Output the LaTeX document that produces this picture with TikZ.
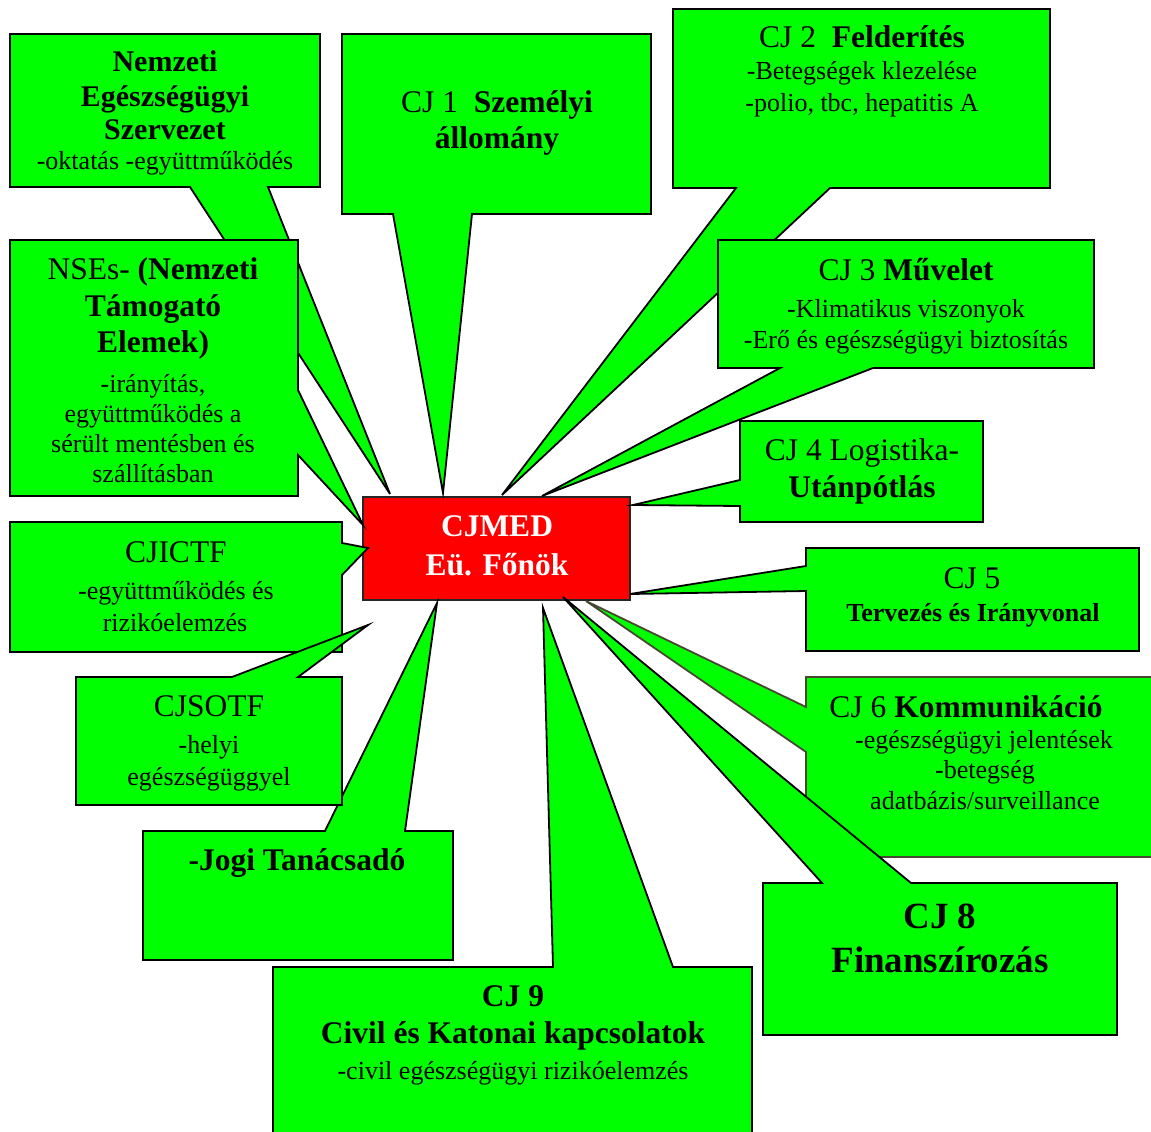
\documentclass[tikz,border=0pt]{standalone}
\usepackage{fontspec}
\setmainfont{Liberation Serif}
\definecolor{boxgreen}{RGB}{0,255,0}
\definecolor{chiefred}{RGB}{255,0,0}
\definecolor{olivegray}{RGB}{72,72,50}
% one line of text, anchored on its baseline
\newcommand\txtline[5]{\node[#4] (#1) at (#2,#3) {#5};}
\begin{document}
\begin{tikzpicture}[x=1pt,y=-1pt,
  callout/.style={draw=black, fill=boxgreen, line width=1.8pt, line join=miter},
  chiefbox/.style={draw=black!85, fill=chiefred, line width=1.8pt, inner sep=0pt},
  txt/.style={anchor=base, inner sep=0pt},
  ttl/.style={txt, font=\fontsize{31.5}{37}\selectfont},
  ttlneg/.style={txt, font=\fontsize{30}{33}\selectfont},
  sml/.style={txt, font=\fontsize{26}{31}\selectfont},
  big/.style={txt, font=\fontsize{37}{44}\selectfont},
]
\useasboundingbox (0,0) rectangle (1151,1132);
\clip (0,0) rectangle (1151,1132);

% the chief's box in the middle
\node[chiefbox, minimum width=267pt, minimum height=103pt] (chief) at (496.5,548.5) {};

% tips of the callout pointers, all around the chief's box
\coordinate (negtip) at (390,494);
\coordinate (nsetip) at (363,525);
\coordinate (cj1tip) at (443,493);
\coordinate (cj2tip) at (502,495);
\coordinate (cj3tip) at (542,496);
\coordinate (cj4tip) at (633,505);
\coordinate (cj5tip) at (630,594);
\coordinate (cj6tip) at (586,601);
\coordinate (cj8tip) at (563,597);
\coordinate (cj9tip) at (543,608);
\coordinate (jogtip) at (437,603);
\coordinate (sotftip) at (368,625);
\coordinate (ictftip) at (368,548);

% Nemzeti Egeszsegugyi Szervezet
\draw[callout] (10,34) -- (320,34) -- (320,187) -- (268,187) -- (negtip) -- (190,187) -- (10,187) -- cycle;
% NSEs
\draw[callout] (10,240) -- (298,240) -- (298,390) -- (nsetip) -- (298,455) -- (298,496) -- (10,496) -- cycle;
% CJ 1
\draw[callout] (342,34) -- (651,34) -- (651,214) -- (472,214) -- (cj1tip) -- (393,214) -- (342,214) -- cycle;
% CJ 2
\draw[callout] (673,9) -- (1050,9) -- (1050,188) -- (830,188) -- (cj2tip) -- (736,188) -- (673,188) -- cycle;
% CJ 3
\draw[callout] (718,240) -- (1094,240) -- (1094,368) -- (873,368) -- (cj3tip) -- (780,368) -- (718,368) -- cycle;
% CJ 4
\draw[callout] (740,421) -- (983,421) -- (983,522) -- (740,522) -- (740,506) -- (cj4tip) -- (740,480) -- cycle;
% CJ 5
\draw[callout] (806,548) -- (1139,548) -- (1139,651) -- (806,651) -- (806,591) -- (cj5tip) -- (806,566) -- cycle;
% CJ 6 (runs past the right edge)
\draw[callout, draw=olivegray] (806,677) -- (1162,677) -- (1162,857) -- (806,857) -- (806,752) -- (cj6tip) -- (806,707) -- cycle;
% CJ 8
\draw[callout] (763,883) -- (822,883) -- (cj8tip) -- (911,883) -- (1117,883) -- (1117,1035) -- (763,1035) -- cycle;
% CJ 9
\draw[callout] (273,967) -- (553,967) -- (cj9tip) -- (673,967) -- (752,967) -- (752,1145) -- (273,1145) -- cycle;
% CJICTF
\draw[callout] (10,522) -- (342,522) -- (342,543) -- (ictftip) -- (342,575) -- (342,652) -- (10,652) -- cycle;
% Jogi Tanacsado
\draw[callout] (143,831) -- (325,831) -- (jogtip) -- (405,831) -- (453,831) -- (453,960) -- (143,960) -- cycle;
% CJSOTF
\draw[callout] (76,677) -- (232,677) -- (sotftip) -- (298,677) -- (342,677) -- (342,805) -- (76,805) -- cycle;

% texts
\txtline{chiefa}{497}{536}{ttl, text=white}{\textbf{CJMED}}
\txtline{chiefb}{497}{575}{ttl, text=white}{\textbf{Eü. Főnök}}

\txtline{nega}{165}{72}{ttlneg}{\textbf{Nemzeti}}
\txtline{negb}{165}{106}{ttlneg}{\textbf{Egészségügyi}}
\txtline{negc}{165}{139}{ttlneg}{\textbf{Szervezet}}
\txtline{negd}{165}{169}{sml}{-oktatás -együttműködés}

\txtline{nsea}{153}{279}{ttl}{NSEs- \textbf{(Nemzeti}}
\txtline{nseb}{153}{316}{ttl}{\textbf{Támogató}}
\txtline{nsec}{153}{352}{ttl}{\textbf{Elemek)}}
\txtline{nsed}{153}{392}{sml}{-irányítás,}
\txtline{nsee}{153}{422}{sml}{együttműködés a}
\txtline{nsef}{153}{452}{sml}{sérült mentésben és}
\txtline{nseg}{153}{482}{sml}{szállításban}

\txtline{cja}{497}{112}{ttl}{CJ 1\ \ \textbf{Személyi}}
\txtline{cjb}{497}{148}{ttl}{\textbf{állomány}}

\txtline{cjtwoa}{862}{48}{ttl}{CJ 2\ \ \textbf{Felderítés}}
\txtline{cjtwob}{862}{80}{sml}{-Betegségek klezelése}
\txtline{cjtwoc}{862}{111}{sml}{-polio, tbc, hepatitis A}

\txtline{cjthreea}{906}{280}{ttl}{CJ 3 \textbf{Művelet}}
\txtline{cjthreeb}{906}{317}{sml}{-Klimatikus viszonyok}
\txtline{cjthreec}{906}{348}{sml}{-Erő és egészségügyi biztosítás}

\txtline{cjfoura}{862}{460}{ttl}{CJ 4 Logistika-}
\txtline{cjfourb}{862}{497}{ttl}{\textbf{Utánpótlás}}

\txtline{cjfivea}{972}{588}{ttl}{CJ 5}
\txtline{cjfiveb}{973}{621}{sml}{\textbf{Tervezés és Irányvonal}}

\txtline{cjsixa}{966}{717}{ttl}{CJ 6 \textbf{Kommunikáció}}
\txtline{cjsixb}{984}{748}{sml}{-egészségügyi jelentések}
\txtline{cjsixc}{985}{778}{sml}{-betegség}
\txtline{cjsixd}{985}{809}{sml}{adatbázis/surveillance}

\txtline{cjeighta}{940}{928}{big}{\textbf{CJ 8}}
\txtline{cjeightb}{940}{972}{big}{\textbf{Finanszírozás}}

\txtline{cjninea}{513}{1006}{ttl}{\textbf{CJ 9}}
\txtline{cjnineb}{513}{1043}{ttl}{\textbf{Civil és Katonai kapcsolatok}}
\txtline{cjninec}{513}{1079}{sml}{-civil egészségügyi rizikóelemzés}

\txtline{ictfa}{176}{562}{ttl}{CJICTF}
\txtline{ictfb}{176}{599}{sml}{-együttműködés és}
\txtline{ictfc}{175}{631}{sml}{rizikóelemzés}

\txtline{sotfa}{209}{716}{ttl}{CJSOTF}
\txtline{sotfb}{209}{753}{sml}{-helyi}
\txtline{sotfc}{209}{785}{sml}{egészségüggyel}

\txtline{joga}{297}{870}{ttl}{\textbf{-Jogi Tanácsadó}}
\end{tikzpicture}
\end{document}
